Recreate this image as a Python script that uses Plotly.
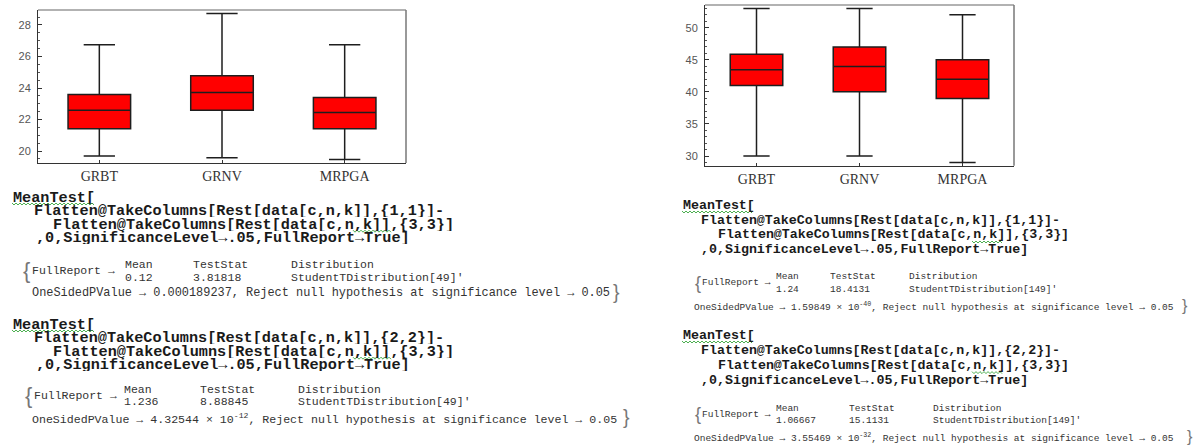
import plotly.graph_objects as go

W, H = 1198, 446

categories = ["GRBT", "GRNV", "MRPGA"]

# Five-number summaries, n = 50 runs
small_lower = [19.68, 19.58, 19.47]
small_q1 = [21.42, 22.58, 21.42]
small_median = [22.58, 23.72, 22.45]
small_q3 = [23.58, 24.78, 23.40]
small_upper = [26.75, 28.72, 26.75]

# Five-number summaries, n = 150 runs
large_lower = [30.0, 30.0, 29.0]
large_q1 = [41.0, 40.0, 38.95]
large_median = [43.45, 43.95, 41.95]
large_q3 = [45.85, 47.0, 45.0]
large_upper = [53.0, 53.0, 52.0]

# Paired mean tests (column pair vs {3,3})
test_pairs = ["{1,1}", "{2,2}", "{1,1}", "{2,2}"]
test_means = ["0.12", "1.236", "1.24", "1.06667"]
test_stats = ["3.81818", "8.88845", "18.4131", "15.1131"]
test_dof = [49, 49, 149, 149]
test_pvalues = ["0.000189237",
                "4.32544 × 10<sup>-12</sup>",
                "1.59849 × 10<sup>-40</sup>",
                "3.55469 × 10<sup>-32</sup>"]


def px(x, y):
    return x / W, 1 - y / H


fig = go.Figure()

box_style = dict(fillcolor="#ff0000", line=dict(color="#1e1e1e", width=1.5),
                 width=0.51, whiskerwidth=0.5, boxpoints=False,
                 showlegend=False, hoverinfo="skip")

fig.add_trace(go.Box(x=categories, q1=small_q1, median=small_median, q3=small_q3,
                     lowerfence=small_lower, upperfence=small_upper,
                     xaxis="x", yaxis="y", **box_style))
fig.add_trace(go.Box(x=categories, q1=large_q1, median=large_median, q3=large_q3,
                     lowerfence=large_lower, upperfence=large_upper,
                     xaxis="x2", yaxis="y2", **box_style))

xbase = dict(type="category", range=[-0.5, 2.5], showline=True, linecolor="#333",
             linewidth=1, ticks="inside", ticklen=3, tickcolor="#333",
             tickfont=dict(family="Liberation Serif", size=14, color="#333"),
             showgrid=False, zeroline=False, fixedrange=True)
ybase = dict(showline=True, linecolor="#333", linewidth=1, ticks="inside", ticklen=4,
             tickcolor="#333", tickfont=dict(family="Liberation Sans", size=11, color="#555"),
             showgrid=False, zeroline=False, fixedrange=True, ticklabelstandoff=4)

fig.update_layout(
    width=W, height=H, margin=dict(l=0, r=0, t=0, b=0),
    paper_bgcolor="white", plot_bgcolor="white",
    xaxis=dict(domain=[38 / W, 406 / W], anchor="y", **xbase),
    yaxis=dict(domain=[1 - 163 / H, 1 - 10 / H], anchor="x", range=[19.24, 28.95],
               tick0=20, dtick=2, minor=dict(ticks="inside", ticklen=2, dtick=0.5, tickcolor="#555"),
               **ybase),
    xaxis2=dict(domain=[705 / W, 1014 / W], anchor="y2", **xbase),
    yaxis2=dict(domain=[1 - 165.7 / H, 1 - 5 / H], anchor="x2", range=[28.49, 53.53],
                tick0=30, dtick=5, minor=dict(ticks="inside", ticklen=2, dtick=1, tickcolor="#555"),
                **ybase),
)

# gray top/right frame edges
for xr, yr in (("x domain", "y domain"), ("x2 domain", "y2 domain")):
    fig.add_shape(type="line", xref=xr, yref=yr, x0=0, x1=1, y0=1, y1=1,
                  line=dict(color="#999", width=1.5))
    fig.add_shape(type="line", xref=xr, yref=yr, x0=1, x1=1, y0=0, y1=1,
                  line=dict(color="#777", width=1.5))


def text(x, y, s, size, color="#333", bold=False, family="Liberation Mono", box_h=None):
    xx, yy = px(x, y)
    extra = {}
    if box_h is not None:
        extra = dict(height=box_h, valign="middle")
    fig.add_annotation(x=xx, y=yy, xref="paper", yref="paper", text=("<b>%s</b>" % s) if bold else s,
                       showarrow=False, xanchor="left", yanchor="middle", borderpad=0,
                       font=dict(family=family, size=size, color=color), **extra)


def squiggle(x0, x1, y):
    pts = []
    x = x0
    up = True
    while x <= x1:
        xx, yy = px(x, y - 1 if up else y + 1)
        pts.append("%.5f,%.5f" % (xx, yy))
        x += 2
        up = not up
    fig.add_shape(type="path", xref="paper", yref="paper",
                  path="M" + " L".join(pts), line=dict(color="#4caf50", width=1))


# layout of each notebook cell
blocks = [
    dict(x0=12, y0=197, code_size=15.2, dy=13.6, indents=(0, 21, 40, 23),
         out_size=11.5, pv_size=11.9, hdr=67, val=80, pv=96, cols=(124, 192, 290), fr=22,
         pvx=31, brace=612, sq=(353, 392)),
    dict(x0=12, y0=324, code_size=15.2, dy=13.6, indents=(0, 21, 40, 23),
         out_size=11.5, pv_size=11.6, hdr=65, val=77, pv=94, cols=(123, 199, 297), fr=24,
         pvx=31, brace=622, sq=(353, 392)),
    dict(x0=682, y0=205, code_size=13.3, dy=15, indents=(0, 18, 35, 18),
         out_size=9.5, pv_size=9.5, hdr=71, val=84, pv=101, cols=(775, 829, 908), fr=694,
         pvx=693, brace=1181, sq=(972, 1002)),
    dict(x0=682, y0=335, code_size=13.3, dy=15.3, indents=(0, 18, 35, 18),
         out_size=9.5, pv_size=9.5, hdr=73, val=85, pv=102, cols=(775, 848, 932), fr=694,
         pvx=693, brace=1186, sq=(972, 1002)),
]

for i, b in enumerate(blocks):
    lines = ["MeanTest[",
             "Flatten@TakeColumns[Rest[data[c,n,k]],%s]-" % test_pairs[i],
             "Flatten@TakeColumns[Rest[data[c,n,k]],{3,3}]",
             ",0,SignificanceLevel→.05,FullReport→True]"]
    for j, s in enumerate(lines):
        text(b["x0"] + b["indents"][j], b["y0"] + j * b["dy"], s, b["code_size"], "#1a1a1a",
             bold=True, box_h=int(b["dy"]))
    squiggle(b["x0"], b["x0"] + 0.6 * b["code_size"] * 9, b["y0"] + 7)
    squiggle(b["sq"][0], b["sq"][1], b["y0"] + 2 * b["dy"] + 7)

    y0 = b["y0"]
    fs = b["out_size"]
    mid = y0 + (b["hdr"] + b["val"]) / 2
    text(b["fr"], mid, "{", fs * 1.9, "#777", family="Liberation Sans")
    text(b["fr"] + fs * 0.75, mid, "FullReport →", fs, "#333")
    c1, c2, c3 = b["cols"]
    text(c1, y0 + b["hdr"], "Mean", fs, box_h=int(fs + 1))
    text(c2, y0 + b["hdr"], "TestStat", fs, box_h=int(fs + 1))
    text(c3, y0 + b["hdr"], "Distribution", fs, box_h=int(fs + 1))
    text(c1, y0 + b["val"], test_means[i], fs, box_h=int(fs + 1))
    text(c2, y0 + b["val"], test_stats[i], fs, box_h=int(fs + 1))
    text(c3, y0 + b["val"], "StudentTDistribution[%d]′" % test_dof[i], fs, box_h=int(fs + 1))
    text(b["pvx"], y0 + b["pv"],
         "OneSidedPValue → %s, Reject null hypothesis at significance level → 0.05" % test_pvalues[i],
         b["pv_size"])
    text(b["brace"], y0 + b["pv"] - 1, "}", fs * 1.7, "#777", family="Liberation Sans")

fig.write_html("out.html")
